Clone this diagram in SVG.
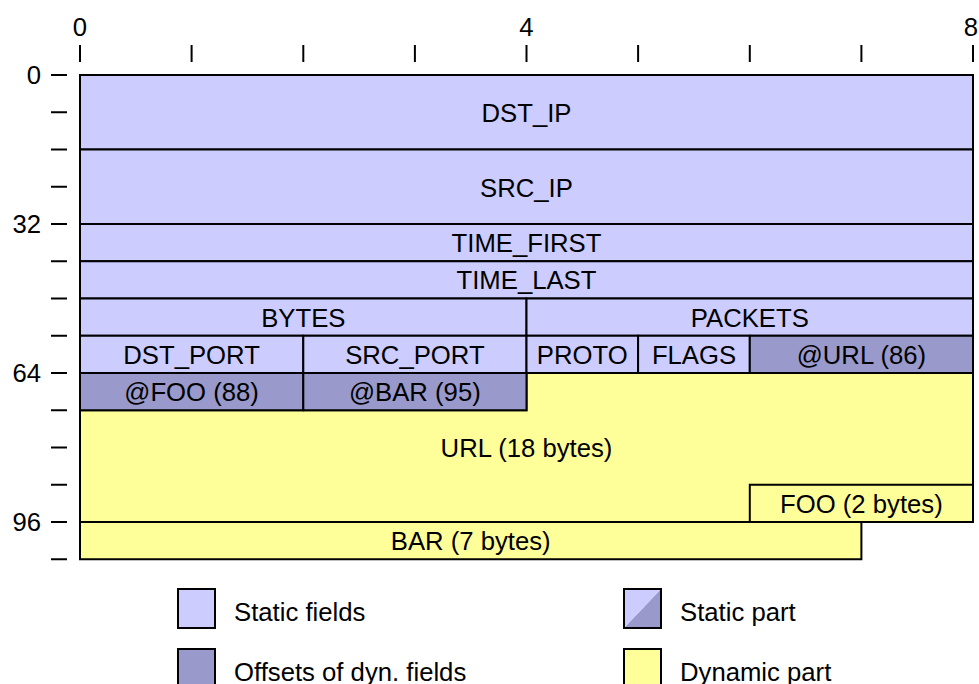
<svg xmlns="http://www.w3.org/2000/svg" width="979" height="684" viewBox="0 0 979 684">
<style>
text{font-family:"Liberation Sans",Arial,sans-serif;font-size:25.7px;fill:#000}
.c{text-anchor:middle}
.r{text-anchor:end}
.st{fill:#ccccff;stroke:#000;stroke-width:2}
.of{fill:#9999cc;stroke:#000;stroke-width:2}
.dy{fill:#ffff99;stroke:#000;stroke-width:2}
.tk{stroke:#000;stroke-width:2}
</style>
<rect width="979" height="684" fill="#fff"/>
<g id="axes">
<g class="tk">
<line x1="80" y1="45" x2="80" y2="62"/><line x1="191.6" y1="45" x2="191.6" y2="62"/><line x1="303.3" y1="45" x2="303.3" y2="62"/><line x1="414.9" y1="45" x2="414.9" y2="62"/><line x1="526.5" y1="45" x2="526.5" y2="62"/><line x1="638.1" y1="45" x2="638.1" y2="62"/><line x1="749.8" y1="45" x2="749.8" y2="62"/><line x1="861.4" y1="45" x2="861.4" y2="62"/><line x1="973" y1="45" x2="973" y2="62"/>
<line x1="51" y1="75" x2="67" y2="75"/><line x1="51" y1="112.25" x2="67" y2="112.25"/><line x1="51" y1="149.5" x2="67" y2="149.5"/><line x1="51" y1="186.75" x2="67" y2="186.75"/><line x1="51" y1="224" x2="67" y2="224"/><line x1="51" y1="261.25" x2="67" y2="261.25"/><line x1="51" y1="298.5" x2="67" y2="298.5"/><line x1="51" y1="335.75" x2="67" y2="335.75"/><line x1="51" y1="373" x2="67" y2="373"/><line x1="51" y1="410.25" x2="67" y2="410.25"/><line x1="51" y1="447.5" x2="67" y2="447.5"/><line x1="51" y1="484.75" x2="67" y2="484.75"/><line x1="51" y1="522" x2="67" y2="522"/><line x1="51" y1="559.25" x2="67" y2="559.25"/>
</g>
<text class="c" x="80" y="36">0</text>
<text class="c" x="526.5" y="36">4</text>
<text class="c" x="971" y="36">8</text>
<text class="r" x="41" y="84">0</text>
<text class="r" x="41" y="233">32</text>
<text class="r" x="41" y="382">64</text>
<text class="r" x="41" y="531">96</text>
</g>
<g id="url">
<polygon class="dy" points="526.5,373 973,373 973,522 80,522 80,410.25 526.5,410.25"/>
<text class="c" x="526.5" y="456.5">URL (18 bytes)</text>
</g>
<g id="dst_ip"><rect class="st" x="80" y="75" width="893" height="74.5"/><text class="c" x="526.5" y="121.5">DST_IP</text></g>
<g id="src_ip"><rect class="st" x="80" y="149.5" width="893" height="74.5"/><text class="c" x="526.5" y="196.5">SRC_IP</text></g>
<g id="time_first"><rect class="st" x="80" y="224" width="893" height="37.25"/><text class="c" x="526.5" y="252">TIME_FIRST</text></g>
<g id="time_last"><rect class="st" x="80" y="261.25" width="893" height="37.25"/><text class="c" x="526.5" y="289.3">TIME_LAST</text></g>
<g id="bytes"><rect class="st" x="80" y="298.5" width="446.5" height="37.25"/><text class="c" x="303.3" y="326.5">BYTES</text></g>
<g id="packets"><rect class="st" x="526.5" y="298.5" width="446.5" height="37.25"/><text class="c" x="749.8" y="326.5">PACKETS</text></g>
<g id="dst_port"><rect class="st" x="80" y="335.75" width="223.3" height="37.25"/><text class="c" x="191.6" y="363.8">DST_PORT</text></g>
<g id="src_port"><rect class="st" x="303.3" y="335.75" width="223.2" height="37.25"/><text class="c" x="414.9" y="363.8">SRC_PORT</text></g>
<g id="proto"><rect class="st" x="526.5" y="335.75" width="111.6" height="37.25"/><text class="c" x="582.3" y="363.8">PROTO</text></g>
<g id="flags"><rect class="st" x="638.1" y="335.75" width="111.7" height="37.25"/><text class="c" x="694" y="363.8">FLAGS</text></g>
<g id="off_url"><rect class="of" x="749.8" y="335.75" width="223.2" height="37.25"/><text class="c" x="861.4" y="363.8">@URL (86)</text></g>
<g id="off_foo"><rect class="of" x="80" y="373" width="223.3" height="37.25"/><text class="c" x="191.6" y="401">@FOO (88)</text></g>
<g id="off_bar"><rect class="of" x="303.3" y="373" width="223.2" height="37.25"/><text class="c" x="414.9" y="401">@BAR (95)</text></g>
<g id="foo"><rect class="dy" x="749.8" y="484.75" width="223.2" height="37.25"/><text class="c" x="861.4" y="512.8">FOO (2 bytes)</text></g>
<g id="bar"><rect class="dy" x="80" y="522" width="781.4" height="37.25"/><text class="c" x="470.7" y="550">BAR (7 bytes)</text></g>
<g id="legend">
<rect class="st" x="178" y="589" width="37" height="39"/>
<text x="234" y="620.5">Static fields</text>
<rect class="of" x="178" y="649" width="37" height="40"/>
<text x="234" y="680.5">Offsets of dyn. fields</text>
<polygon points="624,628 661,589 661,628" fill="#9999cc"/>
<polygon points="624,589 661,589 624,628" fill="#ccccff"/>
<rect x="624" y="589" width="37" height="39" fill="none" stroke="#000" stroke-width="2"/>
<text x="680" y="620.5">Static part</text>
<rect class="dy" x="624" y="649" width="37" height="40"/>
<text x="680" y="680.5">Dynamic part</text>
</g>
</svg>
